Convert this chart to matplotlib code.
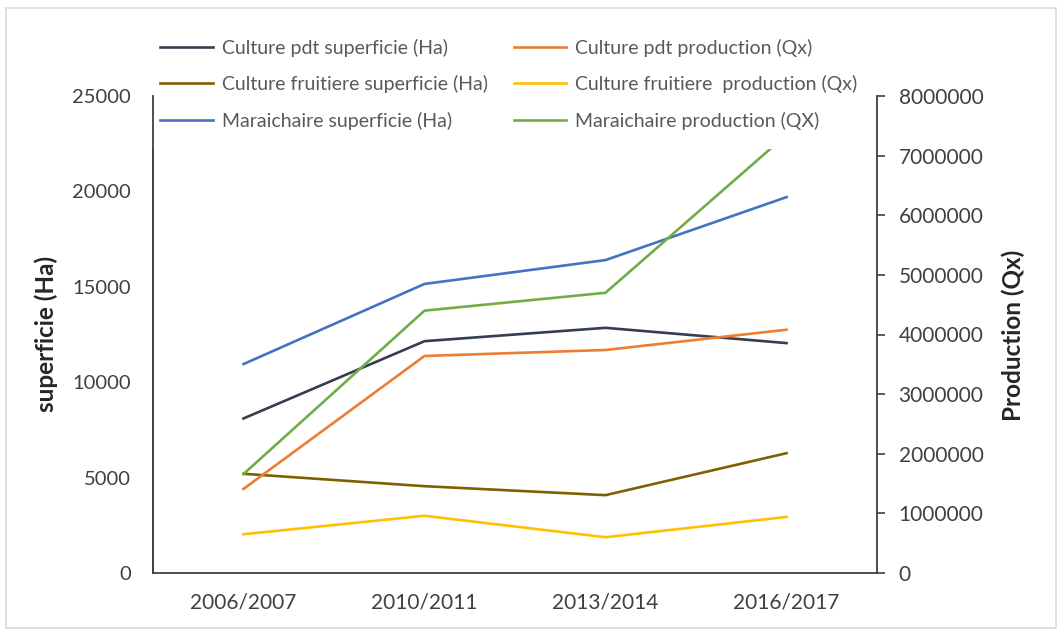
import matplotlib
matplotlib.use("Agg")
import matplotlib.pyplot as plt
import matplotlib.ticker as mticker
from matplotlib.patches import Rectangle

plt.rcParams['font.family'] = ['Lato', 'DejaVu Sans']

# Campagnes agricoles
campagnes = ["2006/2007", "2010/2011", "2013/2014", "2016/2017"]

# Superficies (Ha) - axe de gauche
pdt_superficie = [8100, 12150, 12850, 12050]
fruit_superficie = [5200, 4550, 4080, 6280]
mar_superficie = [10950, 15150, 16400, 19700]

# Productions (Qx) - axe de droite
pdt_production = [1410000, 3640000, 3740000, 4080000]
fruit_production = [650000, 960000, 600000, 940000]
mar_production = [1660000, 4400000, 4700000, 7350000]

W, H = 1062, 632
fig = plt.figure(figsize=(W / 100, H / 100), dpi=100)
fig.patch.set_facecolor("white")

# light chart-area border
fig.add_artist(Rectangle((6 / W, 4 / H), (1056 - 6) / W, (624 - 4) / H,
                         transform=fig.transFigure, fill=False,
                         edgecolor="#d9d9d9", linewidth=1.2))

ax = fig.add_axes([153 / W, 1 - 573 / H, (877 - 153) / W, (573 - 96) / H])
ax2 = ax.twinx()

x = range(len(campagnes))
lw = 1.9
c_pdt_s, c_fru_s, c_mar_s = "#333f50", "#7f6000", "#4472c4"
c_pdt_p, c_fru_p, c_mar_p = "#ed7d31", "#ffc000", "#70ad47"

h1, = ax.plot(x, pdt_superficie, color=c_pdt_s, lw=lw)
h2, = ax.plot(x, fruit_superficie, color=c_fru_s, lw=lw)
h3, = ax.plot(x, mar_superficie, color=c_mar_s, lw=lw)
h4, = ax2.plot(x, pdt_production, color=c_pdt_p, lw=lw, zorder=1.5)
h5, = ax2.plot(x, fruit_production, color=c_fru_p, lw=lw, zorder=1.5)
h6, = ax2.plot(x, mar_production, color=c_mar_p, lw=lw, zorder=1.5)

ax.set_xlim(-0.5, 3.5)
ax.set_ylim(0, 25000)
ax2.set_ylim(0, 8000000)
ax.set_yticks(range(0, 25001, 5000))
ax2.set_yticks(range(0, 8000001, 1000000))
ax.set_xticks(list(x))
ax.set_xticklabels(campagnes)

axis_col = "#404040"
text_col = "#404040"
for a in (ax, ax2):
    a.spines["top"].set_visible(False)
    for s in a.spines.values():
        s.set_color(axis_col)
        s.set_linewidth(1.3)
ax.spines["right"].set_visible(False)
ax2.spines["bottom"].set_visible(False)

ax.tick_params(axis="x", length=0, pad=14, labelsize=15, labelcolor=text_col)
ax.tick_params(axis="y", length=0, pad=16, labelsize=14.5, labelcolor=text_col)
ax2.tick_params(axis="y", left=False, length=5.5, width=1.2, color=axis_col,
                direction="out", pad=10, labelsize=15, labelcolor=text_col)
ax2.yaxis.set_major_formatter(mticker.FuncFormatter(lambda v, p: f"{int(v)}"))

fig.text(46 / W, 1 - 334 / H, "superficie (Ha)", rotation=90, ha="center",
         va="center", fontsize=17.5, fontweight="bold", color="#262626")
fig.text(1013 / W, 1 - 335 / H, "Production (Qx)", rotation=90, ha="center",
         va="center", fontsize=17.5, fontweight="bold", color="#262626")

labels = ["Culture pdt superficie (Ha)", "Culture fruitiere superficie (Ha)",
          "Maraichaire superficie (Ha)", "Culture pdt production (Qx)",
          "Culture fruitiere  production (Qx)", "Maraichaire production (QX)"]
leg = ax2.legend([h1, h2, h3, h4, h5, h6], labels, ncol=2, loc="upper left",
                 bbox_to_anchor=(141 / W, 1 - 19 / H),
                 bbox_transform=fig.transFigure, frameon=True,
                 facecolor="white", edgecolor="none", framealpha=1,
                 fontsize=14, labelcolor="#595959", handlelength=2.7,
                 handletextpad=0.45, columnspacing=1.35, labelspacing=0.95,
                 borderpad=1.0, borderaxespad=0)
leg.set_zorder(2.2)

fig.savefig("out.png", dpi=100, facecolor="white")
